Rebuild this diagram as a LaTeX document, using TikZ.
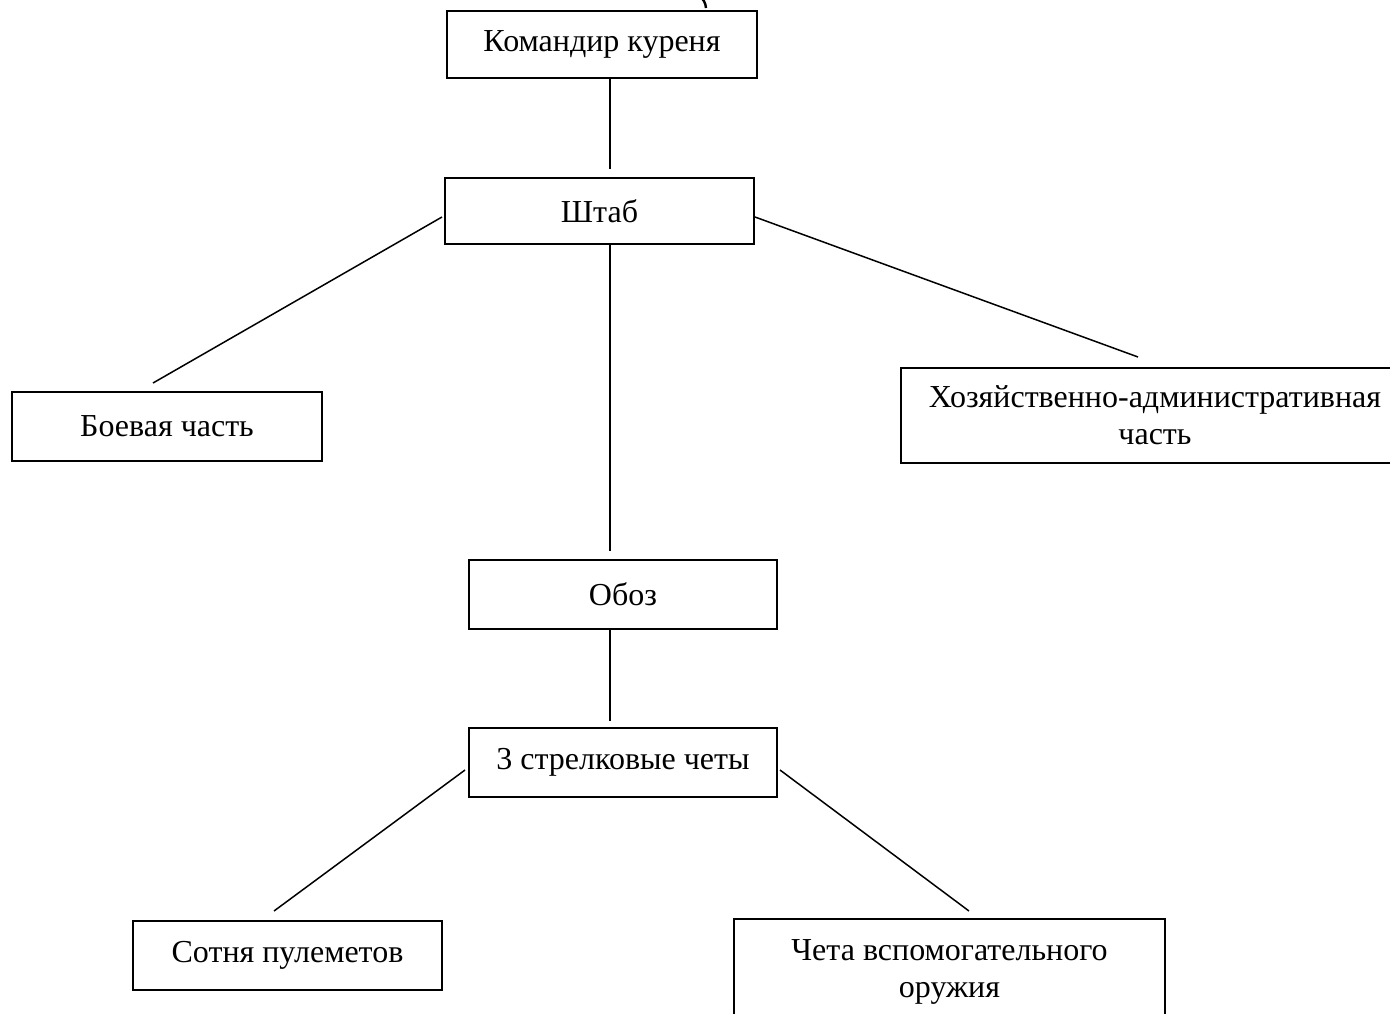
\documentclass[tikz,border=0pt]{standalone}
\usepackage{fontspec}
\setmainfont{Liberation Serif}
\usetikzlibrary{positioning,calc}
\tikzset{
  unit/.style={draw, line width=1pt, align=center, inner sep=0pt,
    font=\fontsize{16}{18.5}\selectfont},
  link/.style={line width=0.75pt}
}

\begin{document}
\begin{tikzpicture}[x=0.5pt,y=-0.5pt]
  % frame of the page
  \useasboundingbox (0,0) rectangle (1390,1013);
  \clip (0,0) rectangle (1390,1013);

  % boxes
  \node[unit, minimum width=155pt, minimum height=33.5pt] (kom) at (602,44.5) {Командир куреня};
  \node[unit, minimum width=154.5pt, minimum height=33pt] (shtab) at (599.5,211) {Штаб};
  \node[unit, minimum width=155pt, minimum height=34.5pt] (boev) at (167,426.5) {Боевая часть};
  \node[unit, minimum width=254pt, minimum height=47.5pt] (hoz) at (1155,415.5) {Хозяйственно-административная\\часть};
  \node[unit, minimum width=154pt, minimum height=34.5pt] (oboz) at (623,594.5) {Обоз};
  \node[unit, minimum width=154pt, minimum height=34.5pt] (strel) at (623,762.5) {3 стрелковые четы};
  \node[unit, minimum width=154.5pt, minimum height=34.5pt] (sotnya) at (287.5,955.5) {Сотня пулеметов};
  \node[unit, minimum width=215.5pt, minimum height=53pt] (cheta) at (949.5,972) {Чета вспомогательного\\оружия};

  % connectors
  \coordinate (ext) at (699,-4);
  \draw[link, line width=1.2pt] (ext) to[bend left=25] ($(kom.north)+(104,-2)$);
  \draw[link] ($(kom.south)+(8,0)$) -- ($(shtab.north)+(10.5,-8)$);
  \draw[link] ($(shtab.west)+(-2,6)$) -- ($(boev.north)+(-14,-8)$);
  \draw[link] ($(shtab.east)+(0,6)$) -- ($(hoz.north)+(-17,-10)$);
  \draw[link] ($(shtab.south)+(10.5,0)$) -- ($(oboz.north)+(-13,-8)$);
  \draw[link] ($(oboz.south)+(-13,0)$) -- ($(strel.north)+(-13,-6)$);
  \draw[link] ($(strel.west)+(-3,7.5)$) -- ($(sotnya.north)+(-13.5,-9)$);
  \draw[link] ($(strel.east)+(2,7.5)$) -- ($(cheta.north)+(19.5,-7)$);
\end{tikzpicture}
\end{document}
